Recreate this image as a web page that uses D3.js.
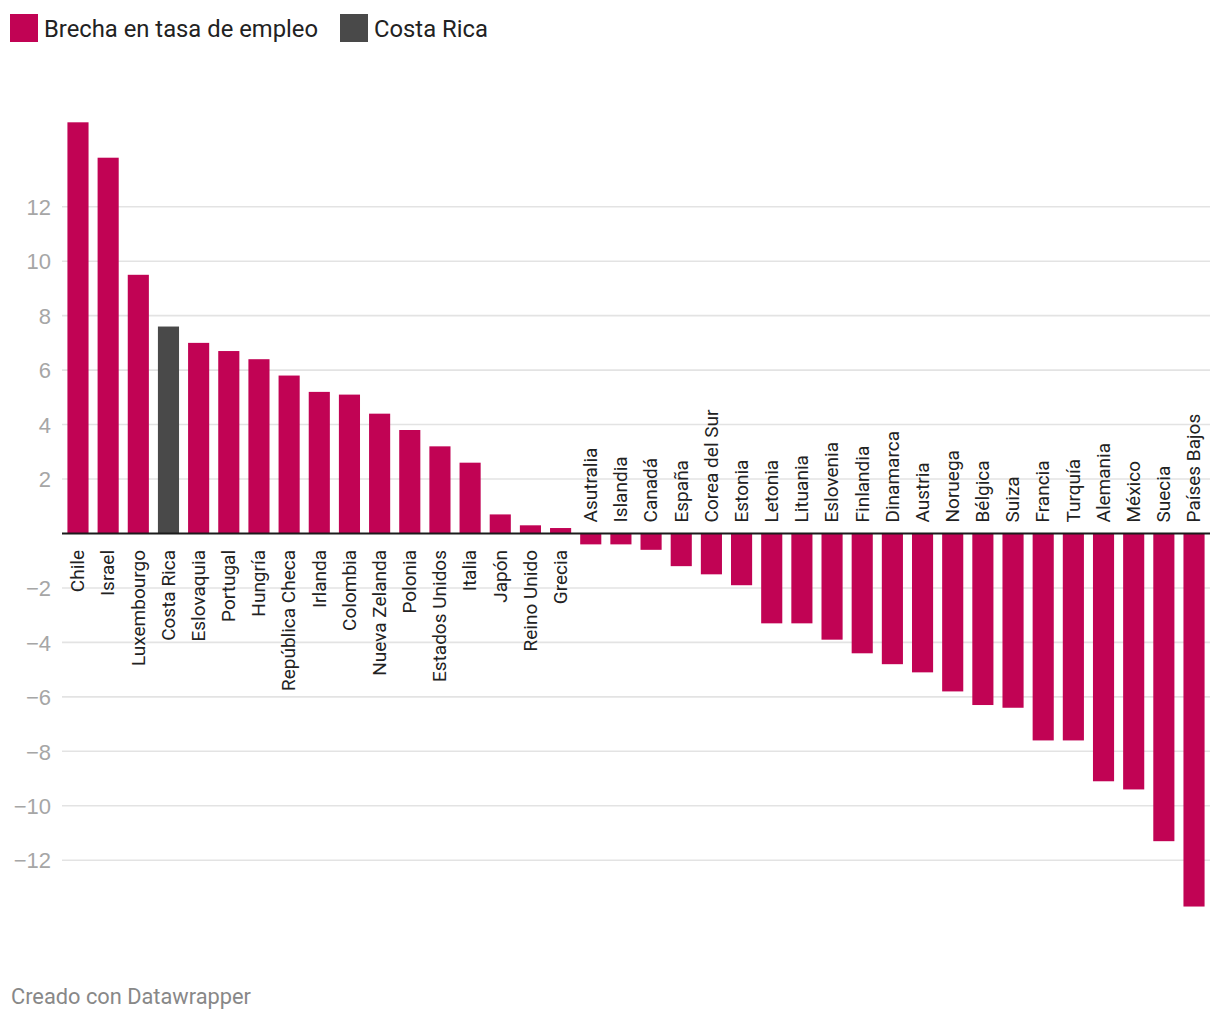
<!DOCTYPE html>
<html>
<head>
<meta charset="utf-8">
<script src="https://cdn.jsdelivr.net/npm/d3@7"></script>
<style>
  html, body { margin: 0; padding: 0; background: #fff; }
  svg { display: block; font-family: Roboto, "Noto Sans", sans-serif; }
</style>
</head>
<body>
<svg id="chart" width="1220" height="1020"></svg>
<script>
const countries = ["Chile","Israel","Luxembourgo","Costa Rica","Eslovaquia","Portugal","Hungría","República Checa","Irlanda","Colombia","Nueva Zelanda","Polonia","Estados Unidos","Italia","Japón","Reino Unido","Grecia","Asutralia","Islandia","Canadá","España","Corea del Sur","Estonia","Letonia","Lituania","Eslovenia","Finlandia","Dinamarca","Austria","Noruega","Bélgica","Suiza","Francia","Turquía","Alemania","México","Suecia","Países Bajos"];
const gapValues = [15.1,13.8,9.5,7.6,7.0,6.7,6.4,5.8,5.2,5.1,4.4,3.8,3.2,2.6,0.7,0.3,0.2,-0.4,-0.4,-0.6,-1.2,-1.5,-1.9,-3.3,-3.3,-3.9,-4.4,-4.8,-5.1,-5.8,-6.3,-6.4,-7.6,-7.6,-9.1,-9.4,-11.3,-13.7];
const highlight = ["Costa Rica"];
const yTicks = [-12,-10,-8,-6,-4,-2,2,4,6,8,10,12];
const legendItems = ["Brecha en tasa de empleo","Costa Rica"];
const footerText = "Creado con Datawrapper";

const MAIN = "#c10354", HL = "#494949";
const data = countries.map((c,i)=>({name:c, value:gapValues[i]}));

const svg = d3.select("#chart");
const x = d3.scaleBand().domain(countries).range([62,1210]).paddingInner(0.3).paddingOuter(0.18);
const y = d3.scaleLinear().domain([-14,16]).range([914.7,97.8]);

// gridlines + tick labels
const yAxis = d3.axisLeft(y).tickValues(yTicks).tickSize(0).tickPadding(0)
  .tickFormat(d => d < 0 ? "\u2212" + Math.abs(d) : String(d));
const gAxis = svg.append("g").attr("transform","translate(51,0)").call(yAxis);
gAxis.select(".domain").remove();
gAxis.selectAll("text").attr("fill","#a6a6a6").style("font-size","22px").attr("x",0).attr("dy","0.35em");

svg.append("g").selectAll("line").data(yTicks).join("line")
  .attr("x1",62).attr("x2",1210)
  .attr("y1",d=>y(d)).attr("y2",d=>y(d))
  .attr("stroke","#e3e3e3").attr("stroke-width",1.6);

// bars
svg.append("g").selectAll("rect").data(data).join("rect")
  .attr("x",d=>x(d.name))
  .attr("width",x.bandwidth())
  .attr("y",d=>y(Math.max(0,d.value)))
  .attr("height",d=>Math.abs(y(d.value)-y(0)))
  .attr("fill",d=>highlight.includes(d.name)?HL:MAIN);

// zero line
svg.append("line").attr("x1",62).attr("x2",1210).attr("y1",y(0)).attr("y2",y(0))
  .attr("stroke","#1b1b1b").attr("stroke-width",2.2);

// category labels
svg.append("g").selectAll("text").data(data).join("text")
  .attr("transform",d=>{
    const cx = x(d.name)+x.bandwidth()/2;
    const yy = d.value>=0 ? y(0)+16.5 : y(0)-11;
    return `translate(${cx},${yy}) rotate(-90)`;
  })
  .attr("text-anchor",d=>d.value>=0?"end":"start")
  .attr("dy","0.33em")
  .attr("fill","#222")
  .style("font-size","19px")
  .text(d=>d.name);

// legend
const legendX = [10,340];
const lg = svg.append("g");
legendItems.forEach((t,i)=>{
  lg.append("rect").attr("x",legendX[i]).attr("y",14).attr("width",28).attr("height",28)
    .attr("fill", i===0?MAIN:HL);
  lg.append("text").attr("x",legendX[i]+34).attr("y",36.5).attr("fill","#222")
    .style("font-size","23.8px").text(t);
});

// footer
svg.append("text").attr("x",11).attr("y",1004).attr("fill","#888")
  .style("font-size","21.8px").text(footerText);
</script>
</body>
</html>
